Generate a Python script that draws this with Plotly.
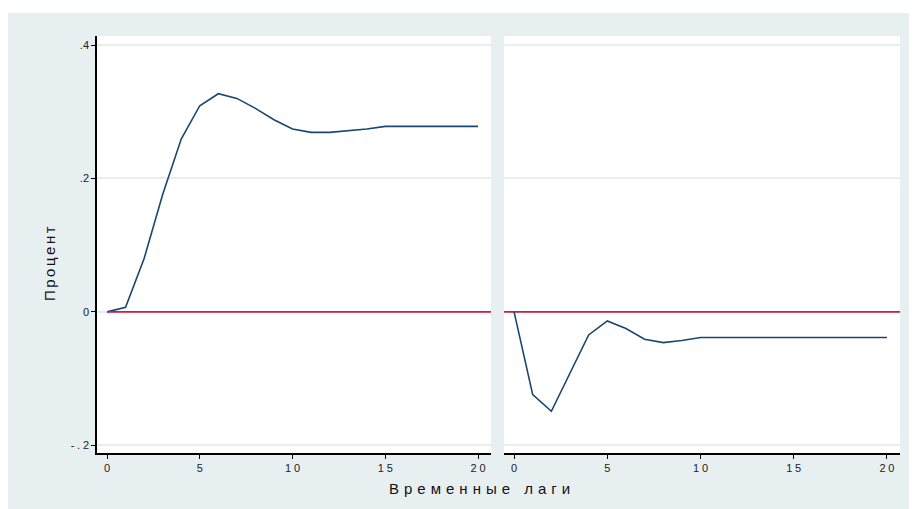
import plotly.graph_objects as go

lags = list(range(21))
resp_left = [0.0, 0.007, 0.080, 0.176, 0.259, 0.309, 0.327, 0.320, 0.305, 0.288, 0.274,
             0.269, 0.269, 0.271, 0.274, 0.278, 0.278, 0.278, 0.278, 0.278, 0.278]
resp_right = [0.0, -0.124, -0.149, -0.091, -0.0345, -0.0135, -0.025, -0.041, -0.046, -0.043, -0.0385,
              -0.0385, -0.0385, -0.0385, -0.0385, -0.0385, -0.0385, -0.0385, -0.0385, -0.0385, -0.0385]
x_ticks = [0, 5, 10, 15, 20]
x_ticktext = ["0", "5", "1\u20050", "1\u20055", "2\u20050"]
y_ticks = [-0.2, 0, 0.2, 0.4]
y_ticktext = ["-\u2005.\u20052", "0", ".2", ".4"]
x_title = "Временные лаги"
y_title = "Процент"

# page body has an 8px margin; figure overflows the window on the right/bottom
W, H = 917, 509
navy = "#1a476f"
red = "#d41a45"
bg = "#e8eff1"
grid = "#e6eef0"

fig = go.Figure()
fig.add_trace(go.Scatter(x=lags, y=resp_left, mode="lines", line=dict(color=navy, width=1.6),
                         xaxis="x", yaxis="y", showlegend=False))
fig.add_trace(go.Scatter(x=[lags[0], lags[-1] + 0.7], y=[0, 0], mode="lines",
                         line=dict(color=red, width=1.6), xaxis="x", yaxis="y", showlegend=False))
fig.add_trace(go.Scatter(x=[lags[0] - 0.6, lags[-1] + 0.7], y=[0, 0], mode="lines",
                         line=dict(color=red, width=1.6), xaxis="x2", yaxis="y2", showlegend=False))
fig.add_trace(go.Scatter(x=lags, y=resp_right, mode="lines", line=dict(color=navy, width=1.6),
                         xaxis="x2", yaxis="y2", showlegend=False))

ydom = [1 - 445 / H, 1 - 28 / H]
yrange = [-0.2115, 0.4135]
font_tick = dict(family="Liberation Sans, Arial, sans-serif", size=11, color="#222")

xcommon = dict(range=[-0.54, 20.7], tickvals=x_ticks, ticktext=x_ticktext, showgrid=False,
               zeroline=False, showline=True, linecolor="black", linewidth=1.5, ticks="outside",
               ticklen=4, tickwidth=1.2, tickcolor="black", tickfont=font_tick, automargin=False)

fig.update_layout(
    width=W, height=H,
    margin=dict(l=0, r=0, t=0, b=0),
    paper_bgcolor=bg, plot_bgcolor="white",
    xaxis=dict(domain=[89 / W, 483 / W], anchor="y", **xcommon),
    xaxis2=dict(domain=[496 / W, 892 / W], anchor="y2", **xcommon),
    yaxis=dict(domain=ydom, range=yrange, tickvals=y_ticks, ticktext=y_ticktext, anchor="x",
               showgrid=True, gridcolor=grid, gridwidth=2, zeroline=False, showline=True,
               linecolor="black", linewidth=1.5, ticks="outside", ticklen=4, tickwidth=1.2,
               tickcolor="black", tickfont=font_tick, automargin=False),
    yaxis2=dict(domain=ydom, range=yrange, tickvals=y_ticks, anchor="x2", showgrid=True,
                gridcolor=grid, gridwidth=2, zeroline=False, showline=False, showticklabels=False,
                ticks="", automargin=False),
    shapes=[
        dict(type="rect", xref="paper", yref="paper", x0=0, x1=1, y0=1 - 5 / H, y1=1,
             fillcolor="white", line=dict(width=0), layer="below"),
    ],
    annotations=[
        dict(text="\u2004".join(x_title),
             xref="paper", yref="paper", x=471 / W, y=1 - 480 / H,
             xanchor="center", yanchor="middle", showarrow=False,
             font=dict(family="Liberation Sans, Arial, sans-serif", size=15, color="#111")),
        dict(text="\u2006".join(y_title), xref="paper", yref="paper", x=42 / W, y=1 - 256 / H,
             textangle=-90, xanchor="center", yanchor="middle", showarrow=False,
             font=dict(family="Liberation Sans, Arial, sans-serif", size=15, color="#111")),
    ],
)

fig.write_html("out.html")
